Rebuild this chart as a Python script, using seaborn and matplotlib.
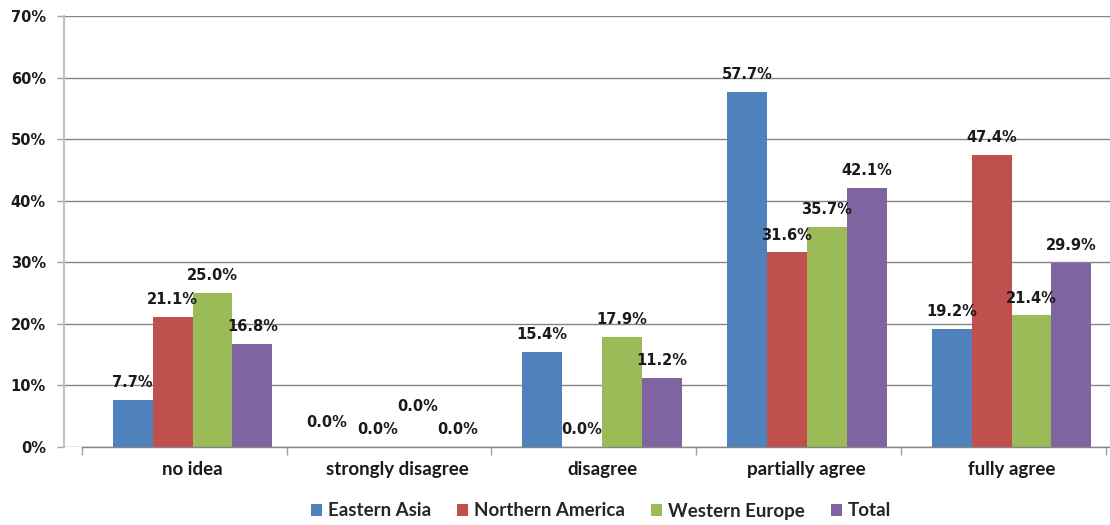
import numpy as np
import pandas as pd
import seaborn as sns
from matplotlib import pyplot as plt

# survey answers per region (share of respondents, %)
categories = ['no idea', 'strongly disagree', 'disagree', 'partially agree', 'fully agree']
regions = ['Eastern Asia', 'Northern America', 'Western Europe', 'Total']
eastern_asia = [7.7, 0.0, 15.4, 57.7, 19.2]
northern_america = [21.1, 0.0, 0.0, 31.6, 47.4]
western_europe = [25.0, 0.0, 17.9, 35.7, 21.4]
total = [16.8, 0.0, 11.2, 42.1, 29.9]
yticks = [0, 10, 20, 30, 40, 50, 60, 70]

colors = ['#4F81BD', '#C0504D', '#9BBB59', '#8064A2']

rows = []
for reg, vals in zip(regions, [eastern_asia, northern_america, western_europe, total]):
    for cat, v in zip(categories, vals):
        rows.append({'category': cat, 'region': reg, 'value': v})
df = pd.DataFrame(rows)

sns.set_style('white')
plt.rcParams['font.family'] = ['DejaVu Sans']

fig = plt.figure(figsize=(11.1, 5.25), dpi=100)
ax = fig.add_axes([64 / 1110, 78 / 525, 1046 / 1110, 431 / 525])

sns.barplot(data=df, x='category', y='value', hue='region', order=categories,
            hue_order=regions, palette=colors, saturation=1, width=0.78,
            linewidth=0, ax=ax)

ax.set_xlim(-0.628, 4.481)
ax.set_ylim(0, 70)
ax.set_xlabel('')
ax.set_ylabel('')

# gridlines
ax.set_yticks(yticks)
ax.set_yticklabels([f'{t}%' for t in yticks], fontsize=10.5, fontweight='bold', color='#1a1a1a')
ax.yaxis.grid(True, color='#868686', linewidth=1)
ax.set_axisbelow(True)
ax.tick_params(axis='y', direction='out', length=5, width=1, color='#a0a0a0', pad=8, left=True)

# category labels + boundary ticks
ax.set_xticks(range(len(categories)))
ax.set_xticklabels(categories, fontsize=13.5, fontweight='bold', family='Lato', color='#1a1a1a')
ax.tick_params(axis='x', length=0, pad=10)
ax.set_xticks(np.arange(6) - 0.54, minor=True)
ax.tick_params(axis='x', which='minor', direction='out', length=6, width=1, color='#a0a0a0', bottom=True)

for s in ['top', 'right']:
    ax.spines[s].set_visible(False)
ax.spines['left'].set_color('#c0c0c0')
ax.spines['left'].set_linewidth(1.5)
ax.spines['bottom'].set_color('#868686')
ax.spines['bottom'].set_linewidth(1)
ax.spines['bottom'].set_bounds(-0.54, 4.481)

# data labels, a few moved like in the original
nudges = {('strongly disagree', 'Eastern Asia'): (-8, 5),
          ('strongly disagree', 'Western Europe'): (0, 17)}
for reg, cont in zip(regions, ax.containers):
    for cat, bar in zip(categories, cont):
        h = bar.get_height()
        dx, dy = nudges.get((cat, reg), (0, 0))
        ax.annotate(f'{h:.1f}%', (bar.get_x() + bar.get_width() / 2, h),
                    xytext=(dx, 7 + dy), textcoords='offset points',
                    ha='center', va='bottom', fontsize=10.5, fontweight='bold',
                    color='#1a1a1a')

handles, labels = ax.get_legend_handles_labels()
ax.get_legend().remove()
fig.legend(handles, labels, loc='center', bbox_to_anchor=(601 / 1110, 1 - 511 / 525),
           ncol=4, frameon=False, handlelength=0.6, handleheight=0.6,
           handletextpad=0.3, columnspacing=1.4,
           prop={'family': 'Lato', 'weight': 'bold', 'size': 13.5})

fig.savefig('out.png', dpi=100)
